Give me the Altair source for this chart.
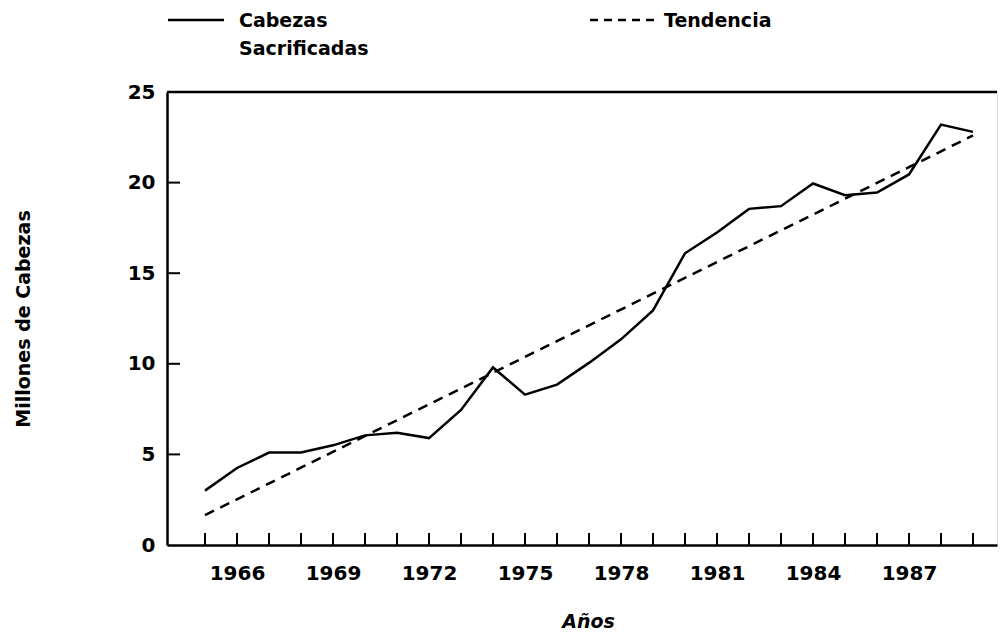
import altair as alt
import pandas as pd

# ---- data ----
years = list(range(1965, 1990))
cabezas = [3.0, 4.25, 5.1, 5.1, 5.5, 6.05, 6.2, 5.9, 7.45, 9.8, 8.3, 8.85,
           10.05, 11.35, 12.95, 16.1, 17.25, 18.55, 18.7, 19.95, 19.3, 19.45,
           20.45, 23.2, 22.8]
trend_years = [1965, 1989]
trend_values = [1.65, 22.6]
x_tick_labels = [1966, 1969, 1972, 1975, 1978, 1981, 1984, 1987]
y_tick_labels = [0, 5, 10, 15, 20, 25]
legend_solid = "Cabezas\nSacrificadas"
legend_dash = "Tendencia"
x_title = "Años"
y_title = "Millones de Cabezas"

W, H = 830, 453
FONT = "DejaVu Sans"
LW = 2.5

df = pd.DataFrame({"year": years, "value": cabezas})
dft = pd.DataFrame({"year": trend_years, "value": trend_values})
dfyt = pd.DataFrame({"v": y_tick_labels[1:]})

xscale = alt.Scale(domain=[1963.8125, 1989.75], nice=False, zero=False)
yscale = alt.Scale(domain=[0, 25], nice=False)

xaxis = alt.Axis(values=x_tick_labels, format="d", ticks=False, grid=False,
                 labelFont=FONT, labelFontWeight="bold", labelFontSize=20,
                 labelPadding=18, labelColor="black",
                 domainColor="black", domainWidth=LW,
                 title=x_title, titleFont=FONT, titleFontWeight="bold",
                 titleFontStyle="italic", titleFontSize=19, titleColor="black",
                 titleX=421, titleY=82, titleBaseline="alphabetic", titleAlign="center")
yaxis = alt.Axis(values=y_tick_labels, format="d", ticks=False, grid=False,
                 labelFont=FONT, labelFontWeight="bold", labelFontSize=20,
                 labelPadding=12, labelColor="black",
                 domainColor="black", domainWidth=LW,
                 title=y_title, titleFont=FONT, titleFontWeight="bold",
                 titleFontSize=19, titleColor="black", titleAngle=270,
                 titleX=-144, titleY=H / 2, titleBaseline="middle", titleAlign="center")

line = alt.Chart(df).mark_line(color="black", strokeWidth=LW).encode(
    x=alt.X("year:Q", scale=xscale, axis=xaxis),
    y=alt.Y("value:Q", scale=yscale, axis=yaxis),
)
trend = alt.Chart(dft).mark_line(color="black", strokeWidth=LW, strokeDash=[10, 7]).encode(
    x=alt.X("year:Q", scale=xscale),
    y=alt.Y("value:Q", scale=yscale),
)
xticks = alt.Chart(df).mark_rule(color="black", strokeWidth=2).encode(
    x=alt.X("year:Q", scale=xscale),
    y=alt.value(H), y2=alt.value(H - 12),
)
yticks = alt.Chart(dfyt).mark_rule(color="black", strokeWidth=2).encode(
    y=alt.Y("v:Q", scale=yscale),
    x=alt.value(0), x2=alt.value(13),
)
one = pd.DataFrame({"a": [0]})
topline = alt.Chart(one).mark_rule(color="black", strokeWidth=LW).encode(
    x=alt.value(0), x2=alt.value(W), y=alt.value(0),
)
leg_solid_line = alt.Chart(one).mark_rule(color="black", strokeWidth=LW).encode(
    x=alt.value(1), x2=alt.value(57), y=alt.value(-72),
)
leg_dash_line = alt.Chart(one).mark_rule(color="black", strokeWidth=LW, strokeDash=[8, 6]).encode(
    x=alt.value(423), x2=alt.value(490), y=alt.value(-72),
)
leg_solid_text = alt.Chart(pd.DataFrame({"t": [legend_solid]})).mark_text(
    font=FONT, fontWeight="bold", fontSize=19, align="left", baseline="middle",
    lineBreak="\n", lineHeight=28, color="black"
).encode(text="t:N", x=alt.value(72), y=alt.value(-71))
leg_dash_text = alt.Chart(pd.DataFrame({"t": [legend_dash]})).mark_text(
    font=FONT, fontWeight="bold", fontSize=19, align="left", baseline="middle",
    color="black"
).encode(text="t:N", x=alt.value(497), y=alt.value(-71))

chart = alt.layer(
    line, trend, xticks, yticks, topline,
    leg_solid_line, leg_dash_line, leg_solid_text, leg_dash_text
).properties(
    width=W, height=H,
    padding={"left": 159, "top": 84, "right": 2, "bottom": 90},
    autosize=alt.AutoSizeParams(type="none"),
).configure_view(stroke=None).configure(background="white")

chart.save("out.html", embed_options={"renderer": "svg", "actions": False})
